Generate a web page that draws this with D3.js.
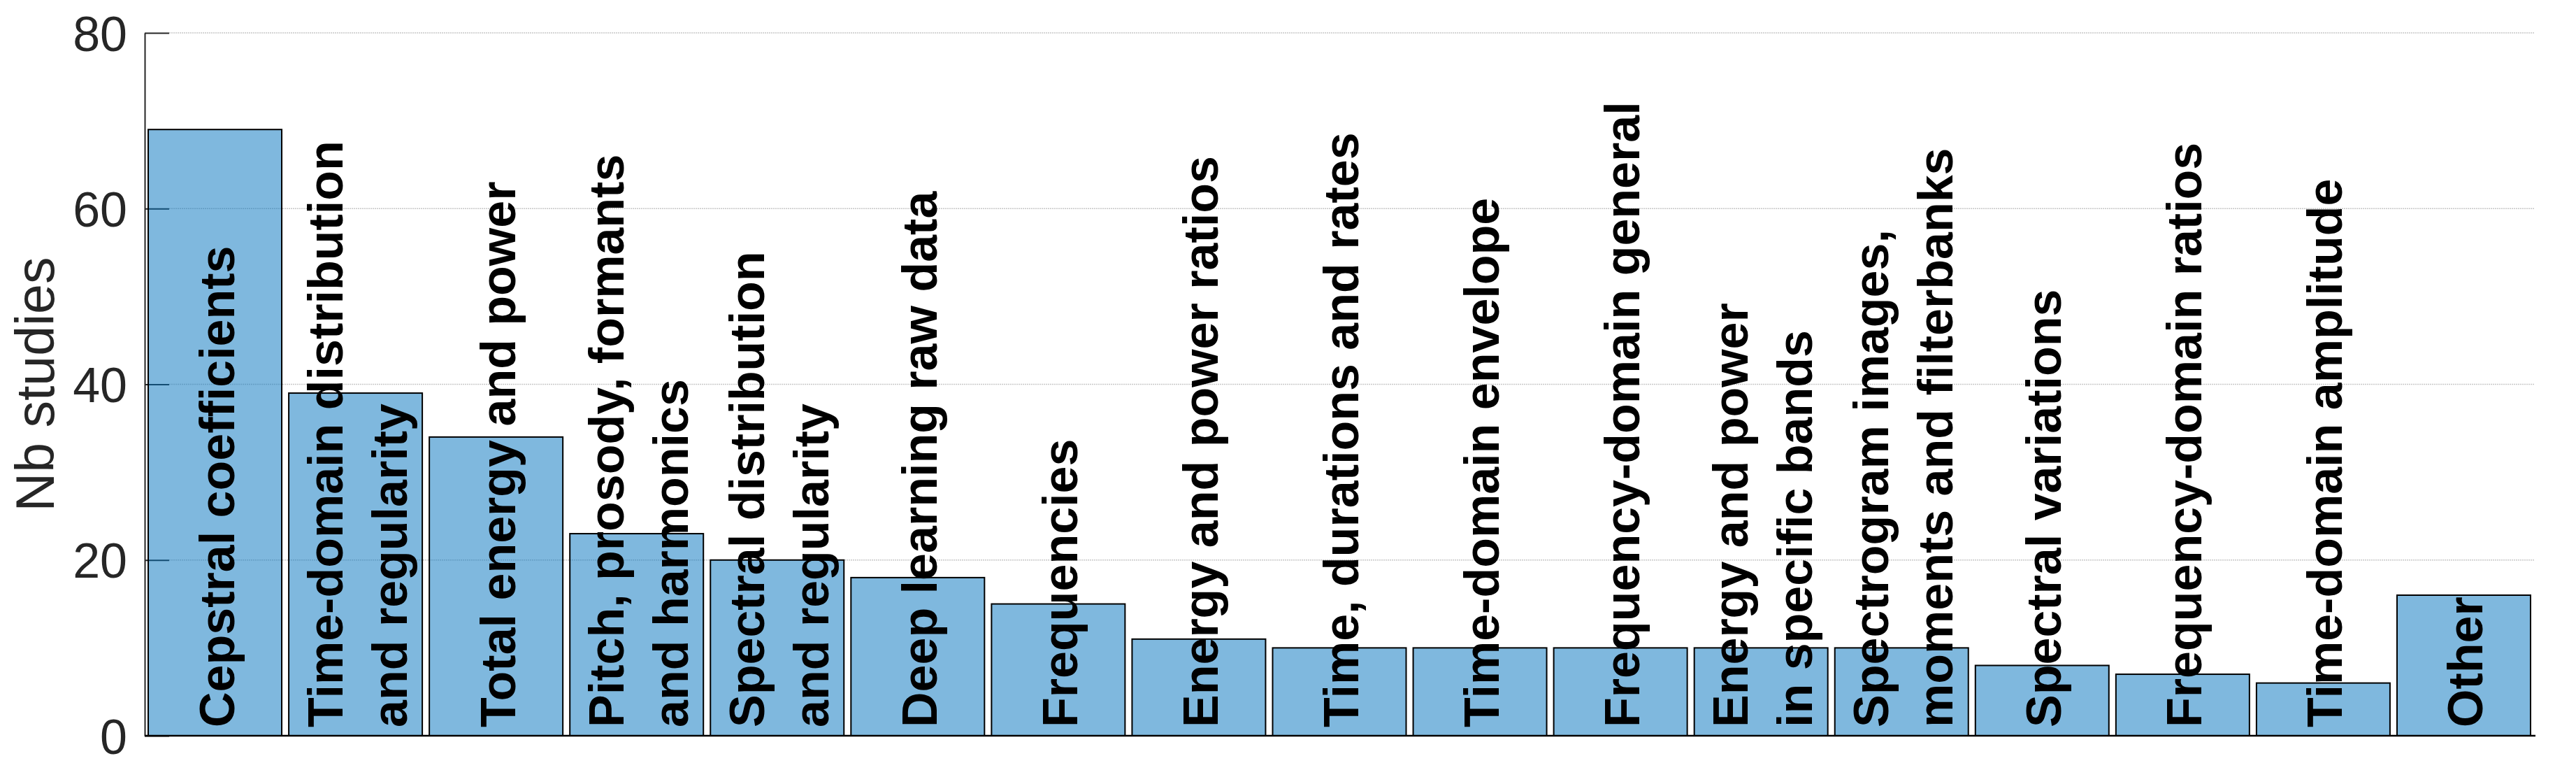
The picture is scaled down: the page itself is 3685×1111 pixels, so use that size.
<!DOCTYPE html>
<html>
<head>
<meta charset="utf-8">
<script src="https://cdn.jsdelivr.net/npm/d3@7"></script>
<style>
  body { margin: 0; background: #fff; }
</style>
</head>
<body>
<div id="chart"></div>
<script>
// data
var categories = [
  "Cepstral coefficients",
  "Time-domain distribution\nand regularity",
  "Total energy and power",
  "Pitch, prosody, formants\nand harmonics",
  "Spectral distribution\nand regularity",
  "Deep learning raw data",
  "Frequencies",
  "Energy and power ratios",
  "Time, durations and rates",
  "Time-domain envelope",
  "Frequency-domain general",
  "Energy and power\nin specific bands",
  "Spectrogram images,\nmoments and filterbanks",
  "Spectral variations",
  "Frequency-domain ratios",
  "Time-domain amplitude",
  "Other"
];
var nbStudies = [69, 39, 34, 23, 20, 18, 15, 11, 10, 10, 10, 10, 10, 8, 7, 6, 16];
var yTicks = [0, 20, 40, 60, 80];
var yLabel = "Nb studies";

// set dimensions
var width = 3685;
var height = 1111;
var plotLeft = 207, plotRight = 3625, plotTop = 47, plotBottom = 1052;

var svg = d3.select("#chart")
            .append("svg")
            .attr("width", width)
            .attr("height", height);

var x = d3.scaleBand()
          .domain(categories)
          .range([plotLeft, plotRight])
          .paddingInner(0.05)
          .paddingOuter(0.025);

var y = d3.scaleLinear()
          .domain([0, 80])
          .range([plotBottom, plotTop]);

// grid lines
svg.append("g")
   .selectAll("line")
   .data(yTicks.filter(function(d){ return d > 0; }))
   .join("line")
   .attr("x1", plotLeft + 35)
   .attr("x2", plotRight)
   .attr("y1", function(d){ return y(d); })
   .attr("y2", function(d){ return y(d); })
   .attr("stroke", "#c8c8c8")
   .attr("stroke-width", 1.5)
   .attr("stroke-dasharray", "2,1");

// y axis with inward ticks
var yAxis = d3.axisLeft(y)
              .tickValues(yTicks)
              .tickSize(-35)
              .tickPadding(25)
              .tickSizeOuter(0);

var gy = svg.append("g")
   .attr("transform", "translate(" + plotLeft + ",0)")
   .call(yAxis);
gy.select(".domain").attr("stroke", "#262626").attr("stroke-width", 2);
gy.selectAll(".tick line").attr("stroke", "#262626").attr("stroke-width", 2);
gy.selectAll(".tick text")
  .attr("fill", "#262626")
  .attr("font-family", "Liberation Sans, Arial, sans-serif")
  .attr("font-size", "70px")
  .attr("dy", "0.36em");

// bars
svg.append("g")
   .selectAll("rect")
   .data(categories)
   .join("rect")
   .attr("x", function(d){ return x(d); })
   .attr("width", x.bandwidth())
   .attr("y", function(d, i){ return y(nbStudies[i]); })
   .attr("height", function(d, i){ return y(0) - y(nbStudies[i]); })
   .attr("fill", "#0072bd")
   .attr("fill-opacity", 0.5)
   .attr("stroke", "#000")
   .attr("stroke-width", 2);

// baseline
svg.append("line")
   .attr("x1", plotLeft)
   .attr("x2", plotRight + 2)
   .attr("y1", y(0))
   .attr("y2", y(0))
   .attr("stroke", "#000")
   .attr("stroke-width", 2.5);

// vertical labels inside the bars
var lineGap = 92;
var labels = svg.append("g")
   .selectAll("text")
   .data(categories)
   .join("text")
   .attr("transform", function(d){
     return "translate(" + (x(d) + x.bandwidth() / 2) + "," + (plotBottom - 12) + ") rotate(-90)";
   })
   .attr("font-family", "Liberation Sans, Arial, sans-serif")
   .attr("font-size", "70px")
   .attr("font-weight", "bold")
   .attr("fill", "#000");

labels.each(function(d){
  var lines = d.split("\n");
  var first = 27 - (lines.length - 1) * lineGap / 2;
  d3.select(this)
    .selectAll("tspan")
    .data(lines)
    .join("tspan")
    .attr("x", 0)
    .attr("y", function(l, k){ return first + k * lineGap; })
    .text(function(l){ return l; });
});

// y label
svg.append("text")
   .attr("transform", "translate(77," + ((plotTop + plotBottom) / 2) + ") rotate(-90)")
   .attr("text-anchor", "middle")
   .attr("font-family", "Liberation Sans, Arial, sans-serif")
   .attr("font-size", "77px")
   .attr("fill", "#262626")
   .text(yLabel);
</script>
</body>
</html>
